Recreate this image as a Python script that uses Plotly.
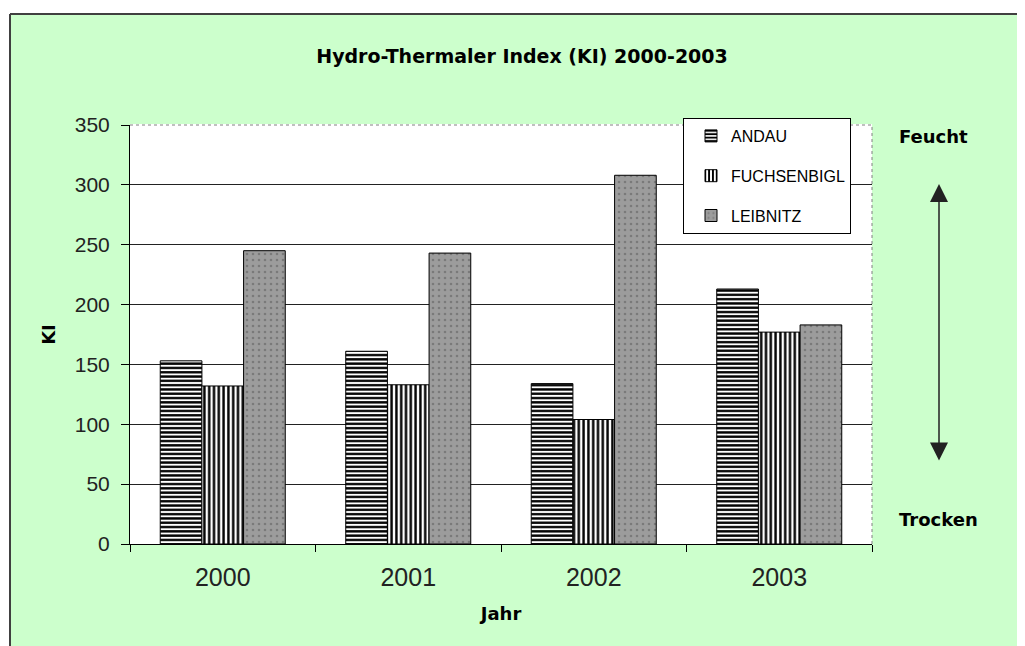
import plotly.graph_objects as go

years = ["2000", "2001", "2002", "2003"]
andau = [153, 161, 134, 213]
fuchsenbigl = [132, 133, 104, 177]
leibnitz = [245, 243, 308, 183]
y_ticks = [0, 50, 100, 150, 200, 250, 300, 350]

BOLD = "DejaVu Sans"
REG = "Liberation Sans, Arial, sans-serif"

fig = go.Figure()
fig.add_trace(go.Bar(
    name="ANDAU", x=years, y=andau, legendgroup="a",
    marker=dict(color="white", line=dict(color="black", width=1),
                pattern=dict(shape="-", fgcolor="black", bgcolor="white",
                             size=4.3, solidity=0.55, fillmode="replace")),
))
fig.add_trace(go.Bar(
    name="FUCHSENBIGL", x=years, y=fuchsenbigl, legendgroup="b",
    marker=dict(color="white", line=dict(color="black", width=1),
                pattern=dict(shape="|", fgcolor="black", bgcolor="white",
                             size=4.8, solidity=0.5, fillmode="replace")),
))
fig.add_trace(go.Bar(
    name="LEIBNITZ", x=years, y=leibnitz, legendgroup="c",
    marker=dict(color="#999999", line=dict(color="black", width=1),
                pattern=dict(shape=".", fgcolor="#7a7a7a", bgcolor="#9c9c9c",
                             size=6, solidity=0.15, fillmode="replace")),
))

# page body has an 8px margin: figure coords = screen coords - 8
OFF = 8
W, H = 1017, 638
L, T = 130 - OFF, 125 - OFF
R = W - (872 - OFF)
B = H - (544 - OFF)
pw, ph = W - L - R, H - T - B

def px(xs):
    return (xs - OFF - L) / pw

def py(ys):
    return (H - B - (ys - OFF)) / ph

shapes = [
    dict(type="rect", xref="paper", yref="paper", x0=px(0), x1=px(10), y0=py(700), y1=py(0),
         fillcolor="white", line=dict(width=0), layer="below"),
    dict(type="rect", xref="paper", yref="paper", x0=px(0), x1=px(1100), y0=py(14), y1=py(0),
         fillcolor="white", line=dict(width=0), layer="below"),
    dict(type="line", xref="paper", yref="paper", x0=px(10), x1=px(10), y0=py(700), y1=py(14),
         line=dict(color="#404040", width=2)),
    dict(type="line", xref="paper", yref="paper", x0=px(10), x1=px(1100), y0=py(14), y1=py(14),
         line=dict(color="#404040", width=2)),
    dict(type="line", xref="paper", yref="paper", x0=0, x1=1, y0=1, y1=1,
         line=dict(color="white", width=2)),
    dict(type="line", xref="paper", yref="paper", x0=0, x1=1, y0=1, y1=1,
         line=dict(color="#808080", width=1, dash="dot")),
    dict(type="line", xref="paper", yref="paper", x0=1, x1=1, y0=0, y1=1,
         line=dict(color="#808080", width=1, dash="dot")),
]

annotations = [
    dict(text="<b>Feucht</b>", xref="paper", yref="paper", x=px(933), y=py(136),
         xanchor="center", yanchor="middle",
         showarrow=False, font=dict(family=BOLD, size=18, color="black")),
    dict(text="<b>Trocken</b>", xref="paper", yref="paper", x=px(938), y=py(519),
         xanchor="center", yanchor="middle",
         showarrow=False, font=dict(family=BOLD, size=18, color="black")),
    dict(text="", xref="paper", yref="paper", x=px(939), y=py(184),
         ax=0, ay=278, showarrow=True, arrowside="end+start", arrowhead=2,
         arrowsize=2.4, arrowwidth=1.5, arrowcolor="#222222",
         standoff=0, startstandoff=0),
]

fig.update_layout(
    width=W, height=H,
    margin=dict(l=L, r=R, t=T, b=B, pad=0),
    paper_bgcolor="#CCFFCC",
    plot_bgcolor="white",
    barmode="group", bargap=0.326, bargroupgap=0,
    title=dict(text="<b>Hydro-Thermaler Index (KI) 2000-2003</b>",
               font=dict(family=BOLD, size=19, color="black"),
               x=px(522), xref="paper", xanchor="center",
               y=1 - (56 - OFF) / H, yref="container", yanchor="middle"),
    legend=dict(x=px(683), y=py(118), xanchor="left", yanchor="top",
                bgcolor="white", bordercolor="black", borderwidth=1,
                font=dict(family=REG, size=16, color="black"),
                tracegroupgap=16, traceorder="grouped", itemwidth=30,
                indentation=7),
    xaxis=dict(
        type="category", tickson="boundaries", ticks="outside", ticklen=7,
        tickcolor="black", showline=True, linecolor="black", linewidth=1,
        showgrid=False, tickfont=dict(family=REG, size=25, color="#222222"),
        ticklabelstandoff=11,
        title=dict(text="<b>Jahr</b>", font=dict(family=BOLD, size=18, color="black"),
                   standoff=17),
    ),
    yaxis=dict(
        range=[0, 350], tickvals=y_ticks, ticks="outside", ticklen=8,
        tickcolor="black", showline=True, linecolor="black", linewidth=1,
        showgrid=True, gridcolor="#222222", gridwidth=1, zeroline=False,
        tickfont=dict(family=REG, size=21, color="#222222"),
        ticklabelstandoff=7,
        title=dict(text="<b>KI</b>", font=dict(family=BOLD, size=18, color="black"),
                   standoff=14),
    ),
    shapes=shapes,
    annotations=annotations,
)

fig.write_html("out.html")
